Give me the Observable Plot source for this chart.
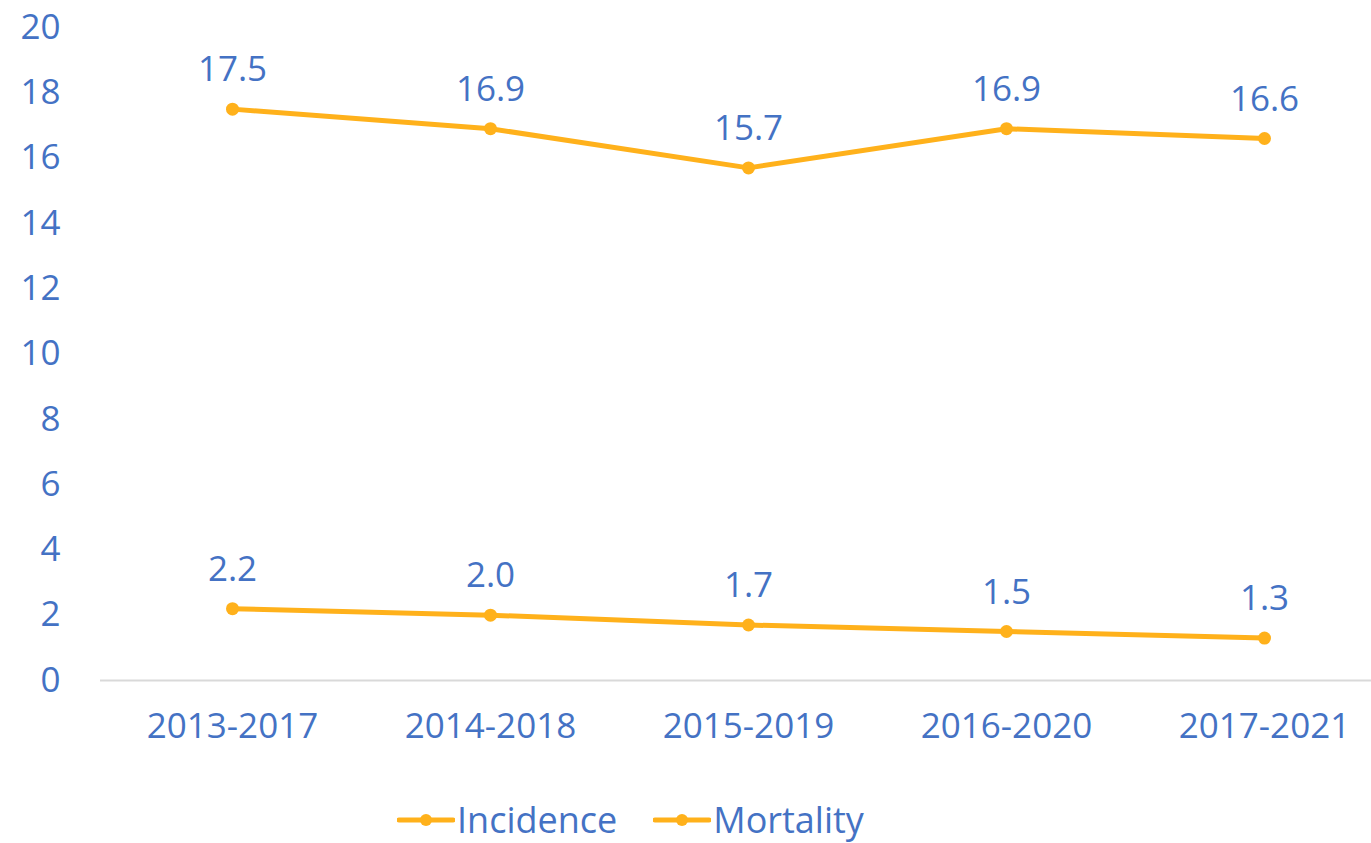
<!DOCTYPE html>
<html>
<head>
<meta charset="utf-8">
<script src="https://cdn.jsdelivr.net/npm/d3@7"></script>
<script src="https://cdn.jsdelivr.net/npm/@observablehq/plot@0.6"></script>
<style>
  body { margin: 0; background: #fff; font-family: "Open Sans", sans-serif; overflow: hidden; }
  #legend { display: flex; justify-content: flex-start; align-items: center; box-sizing: border-box; height: 63px; padding-top: 16px; padding-left: 397px; font-size: 36px; line-height: 42px; color: #4472C4; }
  .item { display: flex; align-items: center; margin-right: 36px; }
  .item svg { margin-right: 2px; }
</style>
</head>
<body>
<div id="chart"></div>
<div id="legend"></div>
<script>
const periods = ["2013-2017", "2014-2018", "2015-2019", "2016-2020", "2017-2021"];
const incidence = [17.5, 16.9, 15.7, 16.9, 16.6];
const mortality = [2.2, 2.0, 1.7, 1.5, 1.3];
const yTicks = [0, 2, 4, 6, 8, 10, 12, 14, 16, 18, 20];
const seriesNames = ["Incidence", "Mortality"];

const lineColor = "#FFB11B";
const textColor = "#4472C4";

const data = [];
periods.forEach((p, i) => {
  data.push({ period: p, series: "Incidence", value: incidence[i] });
  data.push({ period: p, series: "Mortality", value: mortality[i] });
});

const chart = Plot.plot({
  width: 1371,
  height: 780,
  marginLeft: 100,
  marginRight: 0,
  marginTop: 27,
  marginBottom: 100,
  style: { fontFamily: "Open Sans, sans-serif", fontSize: "35px", color: textColor, background: "#fff" },
  x: { type: "point", domain: periods, range: [230, 1265], padding: 0, label: null, tickSize: 0, tickPadding: 33 },
  y: { domain: [0, 20], ticks: yTicks, label: null, tickSize: 0, tickPadding: 40, tickFormat: d => String(d) },
  marks: [
    Plot.ruleY([0], { stroke: "#D9D9D9", strokeWidth: 2 }),
    Plot.line(data, { x: "period", y: "value", z: "series", stroke: lineColor, strokeWidth: 5 }),
    Plot.dot(data, { x: "period", y: "value", fill: lineColor, r: 6.5 }),
    Plot.text(data, { x: "period", y: "value", text: d => d.value.toFixed(1), dy: -39, fill: textColor, fontSize: 35 })
  ]
});
document.getElementById("chart").appendChild(chart);

const legend = document.getElementById("legend");
seriesNames.forEach(name => {
  const item = document.createElement("div");
  item.className = "item";
  item.innerHTML = `<svg width="58" height="20"><line x1="2" y1="10" x2="56" y2="10" stroke="${lineColor}" stroke-width="5" stroke-linecap="round"/><circle cx="29" cy="10" r="6" fill="${lineColor}"/></svg><span>${name}</span>`;
  legend.appendChild(item);
});
</script>
</body>
</html>
